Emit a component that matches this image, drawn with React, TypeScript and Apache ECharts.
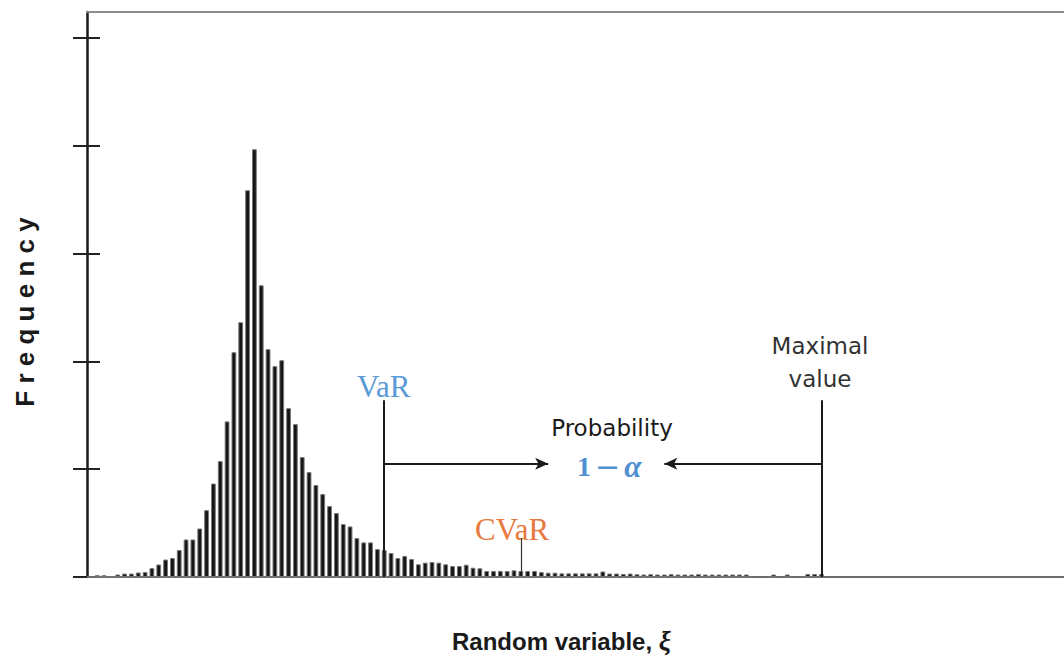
import React, { useEffect, useRef } from "react";
import * as echarts from "echarts";

// Histogram bins (category index along the random variable axis)
const BIN_COUNT = 143;
const FIRST_BIN = 1;

// Frequencies (y units: one tick = 100)
const leftTail = [1.7, 1.7, 0.9, 2.3, 3.2, 3.2, 4.2, 4.6, 8.3, 11.6, 16.2, 17.6, 25, 34.8, 34.8, 45, 62, 86.7, 107.5, 144.3, 208.5, 236.3];
const peakRegion = [358.7, 396.7, 270.6, 211.3, 195.6, 201.1, 156.6, 141.8, 111.2, 97.3, 85.3, 76.9, 65.8, 59.3, 49.1, 46.9, 36.1, 32.1, 32.1, 25.9, 25, 22.2, 17.6];
const rightTail = [19.5, 16.7, 11.8, 13.3, 13.9, 13.3, 11.8, 10.2, 10.2, 11.4, 8.6, 8.1, 5.6, 5.6, 5.6, 5.6, 6.2, 5.6, 5.6, 5.6, 4.6, 4, 4];
const farTail = [3.4, 3.4, 3.4, 3.4, 3.4, 3.4, 5.1, 3.2, 3.2, 2.8, 3.2,
  2.6, 2.3, 2.6, 2.3, 2.3, 2.6, 2.3, 2.3, 2.3, 2.6, 2.3, 2.3, 2.3, 2.3, 2.3, 2.3, 2.3,
  null, null, null, 2.3, null, 2.3, null, null, 2.8, 2.8, 2.8];

const yTicks = [0, 100, 200, 300, 400, 500];
const Y_MAX = 524;

// Annotation anchors (bins and levels)
const varBin = "43";
const cvarBin = "63";
const maxBin = "107";
const leaderTop = 164;
const arrowLevel = 105;
const arrowRightEnd = "67";
const arrowLeftEnd = "84";
const cvarTop = 36;
const cvarBottom = 4.6;

const bins = Array.from({ length: BIN_COUNT }, (_, i) => String(i));
const frequency: (number | null)[] = [...leftTail, ...peakRegion, ...rightTail, ...farTail];

export default function App() {
  const ref = useRef<HTMLDivElement>(null);
  useEffect(() => {
    document.body.style.margin = "0";
    if (!ref.current) return;
    const chart = echarts.init(ref.current, null, { renderer: "svg" });
    const data = bins.map((_, i) => {
      const k = i - FIRST_BIN;
      return k >= 0 && k < frequency.length ? frequency[k] : null;
    });
    const lineStyleDark = { color: "#1a1a1a", width: 2, type: "solid" as const };
    chart.setOption({
      animation: false,
      grid: { left: 87, right: 0, top: 12, bottom: 82, containLabel: false },
      xAxis: [
        {
          type: "category",
          data: bins,
          boundaryGap: true,
          axisLine: { show: true, onZero: false, lineStyle: { color: "#6e6e6e", width: 2 } },
          axisTick: { show: false },
          axisLabel: { show: false },
          splitLine: { show: false },
        },
        {
          type: "category",
          data: bins,
          position: "top",
          boundaryGap: true,
          axisLine: { show: true, onZero: false, lineStyle: { color: "#8c8c8c", width: 2 } },
          axisTick: { show: false },
          axisLabel: { show: false },
        },
      ],
      yAxis: [
        {
          type: "value",
          min: 0,
          max: Y_MAX,
          axisLine: { show: true, lineStyle: { color: "#1a1a1a", width: 2.5 } },
          axisTick: { show: true, customValues: yTicks, length: 14, lineStyle: { color: "#222", width: 2 } },
          axisLabel: { show: false },
          splitLine: { show: false },
        },
        {
          type: "value",
          min: 0,
          max: Y_MAX,
          position: "left",
          axisLine: { show: false },
          axisTick: { show: true, inside: true, customValues: yTicks.filter((v) => v > 0), length: 13, lineStyle: { color: "#222", width: 2 } },
          axisLabel: { show: false },
          splitLine: { show: false },
        },
      ],
      series: [
        {
          type: "bar",
          data,
          barWidth: 4.8,
          silent: true,
          itemStyle: { color: "#151515", borderColor: "#7a7a7a", borderWidth: 1 },
          markLine: {
            silent: true,
            animation: false,
            label: { show: false },
            emphasis: { disabled: true },
            symbol: ["none", "none"],
            lineStyle: lineStyleDark,
            data: [
              [{ coord: [varBin, leaderTop] }, { coord: [varBin, 0] }],
              [{ coord: [maxBin, leaderTop] }, { coord: [maxBin, 0] }],
              [
                { coord: [cvarBin, cvarTop], lineStyle: { color: "#333", width: 1.2, type: "solid" } },
                { coord: [cvarBin, cvarBottom] },
              ],
              [
                { coord: [varBin, arrowLevel], symbol: "none" },
                { coord: [arrowRightEnd, arrowLevel], symbol: "arrow", symbolSize: [9, 13] },
              ],
              [
                { coord: [maxBin, arrowLevel], symbol: "none" },
                { coord: [arrowLeftEnd, arrowLevel], symbol: "arrow", symbolSize: [9, 13] },
              ],
            ],
          },
        },
      ],
      graphic: [
        {
          type: "text",
          x: 25,
          y: 312,
          rotation: Math.PI / 2,
          style: {
            text: "F r e q u e n c y",
            font: 'bold 26px "Liberation Sans", Arial, sans-serif',
            fill: "#1a1a1a",
            textAlign: "center",
            textVerticalAlign: "middle",
          },
        },
        {
          type: "text",
          x: 452,
          y: 641,
          style: {
            text: "{a|Random variable, }{b|ξ}",
            rich: {
              a: { font: 'bold 24px "Liberation Sans", Arial, sans-serif', fill: "#1a1a1a" },
              b: { font: 'bold italic 27px "Liberation Serif", "Times New Roman", serif', fill: "#1a1a1a" },
            },
            textAlign: "left",
            textVerticalAlign: "middle",
          },
        },
        {
          type: "text",
          x: 357,
          y: 386,
          style: {
            text: "VaR",
            font: '31px "Liberation Serif", "Times New Roman", serif',
            fill: "#5b9bd5",
            textAlign: "left",
            textVerticalAlign: "middle",
          },
        },
        {
          type: "text",
          x: 475,
          y: 529,
          style: {
            text: "CVaR",
            font: '31px "Liberation Serif", "Times New Roman", serif',
            fill: "#e8793e",
            textAlign: "left",
            textVerticalAlign: "middle",
          },
        },
        {
          type: "text",
          x: 612,
          y: 428,
          style: {
            text: "Probability",
            font: '23px "DejaVu Sans", sans-serif',
            fill: "#1a1a1a",
            textAlign: "center",
            textVerticalAlign: "middle",
          },
        },
        {
          type: "text",
          x: 577,
          y: 466,
          style: {
            text: "{a|1}{s| }{m|−}{s| }{c|α}",
            rich: {
              a: { font: 'bold 28px "Liberation Serif", "Times New Roman", serif', fill: "#4f8fd0" },
              s: { font: '16px "Liberation Serif", serif', fill: "#4f8fd0" },
              m: { font: '30px "DejaVu Serif", serif', fill: "#4f8fd0" },
              c: { font: 'bold italic 31px "Liberation Serif", "Times New Roman", serif', fill: "#4f8fd0" },
            },
            textAlign: "left",
            textVerticalAlign: "middle",
          },
        },
        {
          type: "text",
          x: 820,
          y: 346,
          style: {
            text: "Maximal",
            font: '23px "DejaVu Sans", sans-serif',
            fill: "#333",
            textAlign: "center",
            textVerticalAlign: "middle",
          },
        },
        {
          type: "text",
          x: 820,
          y: 379,
          style: {
            text: "value",
            font: '23px "DejaVu Sans", sans-serif',
            fill: "#333",
            textAlign: "center",
            textVerticalAlign: "middle",
          },
        },
      ],
    });
    return () => chart.dispose();
  }, []);
  return <div ref={ref} style={{ width: 1064, height: 659 }} />;
}
